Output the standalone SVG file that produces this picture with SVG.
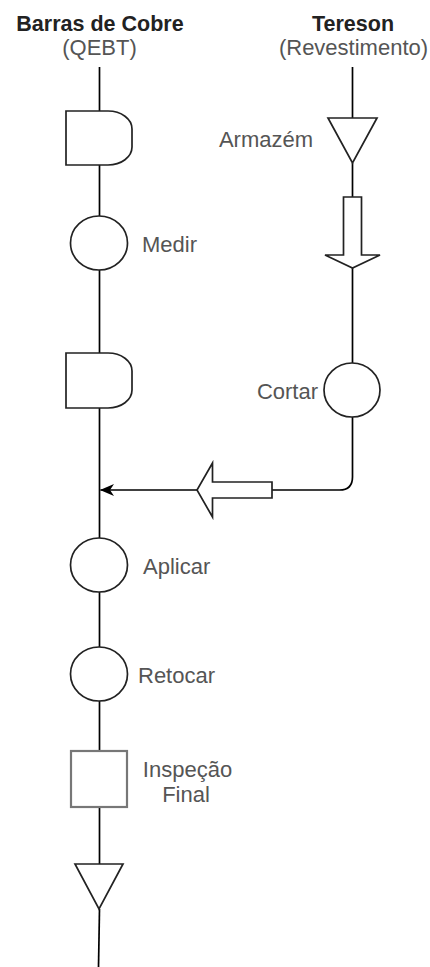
<svg xmlns="http://www.w3.org/2000/svg" width="430" height="967" viewBox="0 0 430 967">
<defs>
<style>
.t{font-family:"Liberation Sans",Arial,sans-serif;font-size:22px;fill:#555}
.b{font-family:"Liberation Sans",Arial,sans-serif;font-size:21.5px;font-weight:bold;fill:#222}
.ln{fill:none;stroke:#000;stroke-width:1.7}
.sh{fill:#fff;stroke:#222;stroke-width:1.7}
.ba{fill:#fff;stroke:#222;stroke-width:1.7;stroke-linejoin:miter}
</style>
<marker id="ah" viewBox="0 0 14 12" refX="13.5" refY="6" markerWidth="14" markerHeight="12" markerUnits="userSpaceOnUse" orient="auto">
<path d="M0,0 L14,6 L0,12 L4,6 Z" fill="#000"/>
</marker>
</defs>
<rect width="430" height="967" fill="#fff"/>
<g id="connectors">
<path class="ln" d="M99.5,67 V111"/>
<path class="ln" d="M99.5,165 V216"/>
<path class="ln" d="M99.5,270 V353"/>
<path class="ln" d="M99.5,408 V538"/>
<path class="ln" d="M99.5,592 V647"/>
<path class="ln" d="M99.5,701 V751"/>
<path class="ln" d="M99.5,807 V864"/>
<path class="ln" d="M99.5,909 L98.5,967"/>
<path class="ln" d="M352.5,67 V118"/>
<path class="ln" d="M352.5,163 V197"/>
<path class="ln" d="M352.5,268 V363"/>
<path class="ln" d="M352.5,417 V477 Q352.5,490 339.5,490 H272"/>
<path class="ln" d="M197,490 H100.5" marker-end="url(#ah)"/>
</g>
<g id="title-left">
<text class="b" x="100" y="31" text-anchor="middle">Barras de Cobre</text>
<text class="t" x="99.5" y="55" text-anchor="middle">(QEBT)</text>
</g>
<g id="title-right">
<text class="b" x="353" y="31" text-anchor="middle">Tereson</text>
<text class="t" x="353.5" y="55" text-anchor="middle">(Revestimento)</text>
</g>
<g id="delay1">
<path class="sh" d="M66,111 H108 A24,18 0 0 1 132,129 V147 A24,18 0 0 1 108,165 H66 Z"/>
</g>
<g id="medir">
<ellipse class="sh" cx="99" cy="243" rx="28.5" ry="27"/>
<text class="t" x="142" y="252">Medir</text>
</g>
<g id="delay2">
<path class="sh" d="M66,353 H108 A24,18 0 0 1 132,371 V390 A24,18 0 0 1 108,408 H66 Z"/>
</g>
<g id="armazem">
<path class="sh" d="M328,118 H377 L352.5,163 Z"/>
<text class="t" x="313" y="147" text-anchor="end">Armazém</text>
</g>
<g id="transport-down">
<path class="ba" d="M343.5,197 H361.5 V255 H380 L352.5,268 L325,255 H343.5 Z"/>
</g>
<g id="cortar">
<ellipse class="sh" cx="352" cy="390" rx="28" ry="27"/>
<text class="t" x="318" y="399" text-anchor="end">Cortar</text>
</g>
<g id="transport-left">
<path class="ba" d="M272,482 V498 H212.5 V517 L197,490 L212.5,463 V482 Z"/>
</g>
<g id="aplicar">
<ellipse class="sh" cx="99" cy="565" rx="28.5" ry="27"/>
<text class="t" x="143" y="574">Aplicar</text>
</g>
<g id="retocar">
<ellipse class="sh" cx="99" cy="674" rx="28.5" ry="27"/>
<text class="t" x="138" y="683">Retocar</text>
</g>
<g id="inspecao">
<rect x="71" y="751" width="56" height="56" fill="#fff" stroke="#777" stroke-width="2.2"/>
<text class="t" x="187.5" y="777" text-anchor="middle">Inspeção</text>
<text class="t" x="186" y="802" text-anchor="middle">Final</text>
</g>
<g id="armazem-final">
<path class="sh" d="M75,864 H123 L99,909 Z"/>
</g>
</svg>
